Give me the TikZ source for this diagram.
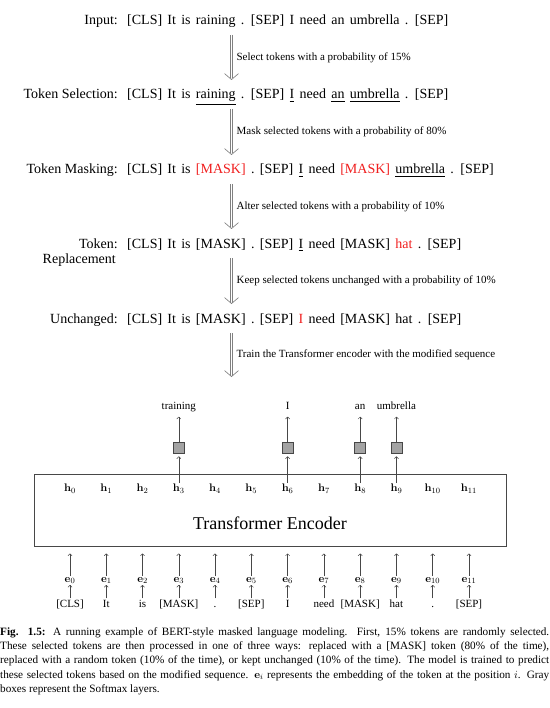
\documentclass[tikz,border=0pt]{standalone}
\usepackage[no-math]{fontspec}
\setmainfont{Liberation Serif}
\usepackage{amsmath}
\usetikzlibrary{arrows.meta, positioning, calc}
\definecolor{mlmred}{HTML}{F01E1E}
\definecolor{smgray}{HTML}{A3A3A3}
\definecolor{edgegray}{HTML}{474747}

\begin{document}
\begin{tikzpicture}[
  x=1pt, y=-1pt,
  lab/.style={font=\fontsize{14}{16}\selectfont, inner sep=0pt, anchor=base east},
  seq/.style={font=\fontsize{14}{16}\selectfont, execute at begin node={\spaceskip=5.3pt\relax}, inner sep=0pt, anchor=base west},
  stepnote/.style={font=\fontsize{11}{13}\selectfont, inner sep=0pt, anchor=west},
  steparrow/.style={draw=white, line width=1.2pt,
    -{Straight Barb[color=gray, line width=0.65pt, length=6pt, width=14pt]},
    preaction={draw=gray, line width=2.3pt, -, shorten >=1.5pt}},
  up/.style={draw=edgegray, line width=0.5pt, -{To[length=2.5pt,width=4.5pt]}},
  vec/.style={font=\fontsize{11}{13}\selectfont, inner sep=1pt},
  tok/.style={font=\fontsize{11}{13}\selectfont, inner sep=1pt, text height=7.5pt, text depth=2.5pt},
  softmax/.style={draw=edgegray, fill=smgray, line width=0.7pt, minimum size=11pt, inner sep=0pt}
  ]
  \useasboundingbox (0,0) rectangle (549,708);
  % rows
  \node[lab] (l1) at (118,25) {Input:};
  \node[seq] (r1) at (127,25) {[CLS] It is raining . [SEP] I need an umbrella . [SEP]};
  \node[lab] (l2) at (118,99) {Token Selection:};
  \node[seq] (r2) at (127,99) {[CLS] It is \underline{raining} . [SEP] \underline{I} need \underline{an} \underline{umbrella} . [SEP]};
  \node[lab] (l3) at (118,174) {Token Masking:};
  \node[seq] (r3) at (127,174) {[CLS] It is \textcolor{mlmred}{[MASK]} . [SEP] \underline{I} need \textcolor{mlmred}{[MASK]} \underline{umbrella} . [SEP]};
  \node[lab] (l4) at (118,248) {Token:};
  \node[lab] (l4b) at ($(l4.base east)+(-2,15.5)$) {Replacement};
  \node[seq] (r4) at (127,248) {[CLS] It is [MASK] . [SEP] \underline{I} need [MASK] \textcolor{mlmred}{hat} . [SEP]};
  \node[lab] (l5) at (118,323) {Unchanged:};
  \node[seq] (r5) at (127,323) {[CLS] It is [MASK] . [SEP] \textcolor{mlmred}{I} need [MASK] hat . [SEP]};
  % step arrows
  \coordinate (ax) at (231.5,0);
  \coordinate (trainend) at (231.5,377);
  \draw[steparrow] ($(r1.base -| ax)+(0,10)$) -- ($(r2.base -| ax)+(0,-19)$) node[midway, stepnote, xshift=4.5pt] (n1) {Select tokens with a probability of 15\%};
  \draw[steparrow] ($(r2.base -| ax)+(0,10)$) -- ($(r3.base -| ax)+(0,-19)$) node[midway, stepnote, xshift=4.5pt] (n2) {Mask selected tokens with a probability of 80\%};
  \draw[steparrow] ($(r3.base -| ax)+(0,10)$) -- ($(r4.base -| ax)+(0,-19)$) node[midway, stepnote, xshift=4.5pt] (n3) {Alter selected tokens with a probability of 10\%};
  \draw[steparrow] ($(r4.base -| ax)+(0,10)$) -- ($(r5.base -| ax)+(0,-19)$) node[midway, stepnote, xshift=4.5pt] (n4) {Keep selected tokens unchanged with a probability of 10\%};
  \draw[steparrow] ($(r5.base -| ax)+(0,10)$) -- (trainend) node[midway, stepnote, xshift=4.5pt] (n5) {Train the Transformer encoder with the modified sequence};
  % encoder
  \draw[draw=edgegray, line width=0.8pt] (34,474) rectangle (506,546);
  \node[font=\fontsize{18}{20}\selectfont] (enc) at (270,523) {Transformer Encoder};
  \coordinate (encbot) at (0,546);
  \foreach \i/\w in {0/{[CLS]},1/It,2/is,3/{[MASK]},4/.,5/{[SEP]},6/I,7/need,8/{[MASK]},9/hat,10/.,11/{[SEP]}} {
    \node[vec] (h\i) at ({70+36.27*\i},489) {$\mathbf{h}_{\i}$};
    \node[vec] (e\i) at ({70+36.27*\i},580.5) {$\mathbf{e}_{\i}$};
    \node[tok] (t\i) at ({70+36.27*\i},604.5) {\w};
    \draw[up] (e\i.north) -- ($(e\i |- encbot)+(0,7.5)$);
    \draw[up] (t\i.north) -- (e\i.south);
  }
  % softmax heads
  \foreach \i/\w in {3/training,6/I,8/an,9/umbrella} {
    \node[softmax] (s\i) at ({70+36.27*\i},447.5) {};
    \node[tok] (o\i) at ({70+36.27*\i},406.5) {\w};
    \draw[up] (h\i.north) -- ($(s\i.south)+(0,3)$);
    \draw[up] (s\i.north) -- ($(o\i.south)+(0,4)$);
  }
  % caption
  \node[font=\fontsize{11.2}{14.4}\selectfont, text width=549pt, align=justify, inner sep=0pt, anchor=north west] (cap) at (0,627)
    {\textbf{Fig. 1.5:} A running example of BERT-style masked language modeling. First, 15\% tokens are randomly selected.\linebreak
     These selected tokens are then processed in one of three ways: replaced with a [MASK] token (80\% of the time),\linebreak
     replaced with a random token (10\% of the time), or kept unchanged (10\% of the time). The model is trained to predict\linebreak
     these selected tokens based on the modified sequence. $\mathbf{e}_i$ represents the embedding of the token at the position $i$. Gray\linebreak
     boxes represent the Softmax layers.};
\end{tikzpicture}
\end{document}
